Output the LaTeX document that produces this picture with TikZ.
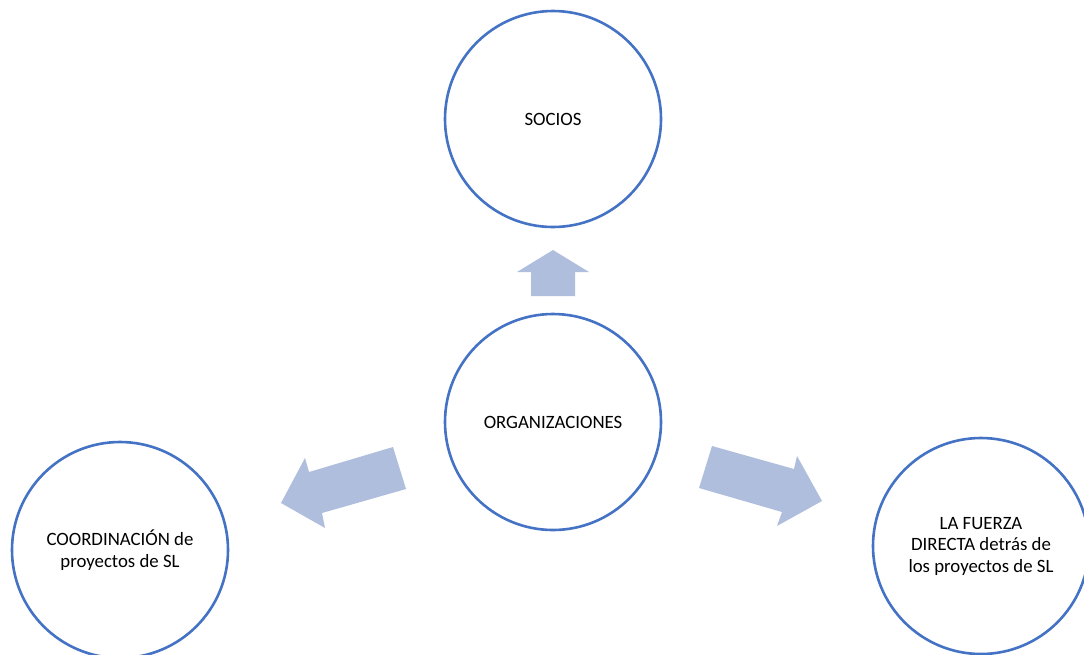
\documentclass[tikz,border=0pt]{standalone}
\usepackage{fontspec}
\setmainfont{Carlito}
\definecolor{ringblue}{HTML}{4472C4}
\definecolor{arrowfill}{HTML}{B0BEDE}
\begin{document}
\begin{tikzpicture}[x=1pt,y=-1pt,
  ring/.style={circle, draw=ringblue, line width=2.6pt, minimum size=216pt, inner sep=0pt,
    align=center, font=\fontsize{18.8}{21.5}\selectfont, text=black},
  blockarrow/.style={fill=arrowfill, draw=none}]
\useasboundingbox (0,0) rectangle (1084,654);
\fill[white] (0,0) rectangle (1084,654);
\node[ring] (socios) at (553,119) {SOCIOS};
\node[ring] (org) at (553,422) {ORGANIZACIONES};
\node[ring] (coord) at (120,550) {COORDINACIÓN de\\proyectos de SL};
\node[ring] (fuerza) at (981,546) {LA FUERZA\\DIRECTA detrás de\\los proyectos de SL};
% up arrow
\path[blockarrow] (531,296) -- (531,272) -- (517,272) -- (553,250) -- (589,272) -- (575,272) -- (575,296) -- cycle;
% left arrow
\path[blockarrow] (393,447) -- (309,472) -- (305,458) -- (281,503) -- (325,528) -- (322,513) -- (406,489) -- cycle;
% right arrow
\path[blockarrow] (712,446) -- (794,469) -- (797,456) -- (822,501) -- (777,526) -- (782,512) -- (699,488) -- cycle;
\end{tikzpicture}
\end{document}
